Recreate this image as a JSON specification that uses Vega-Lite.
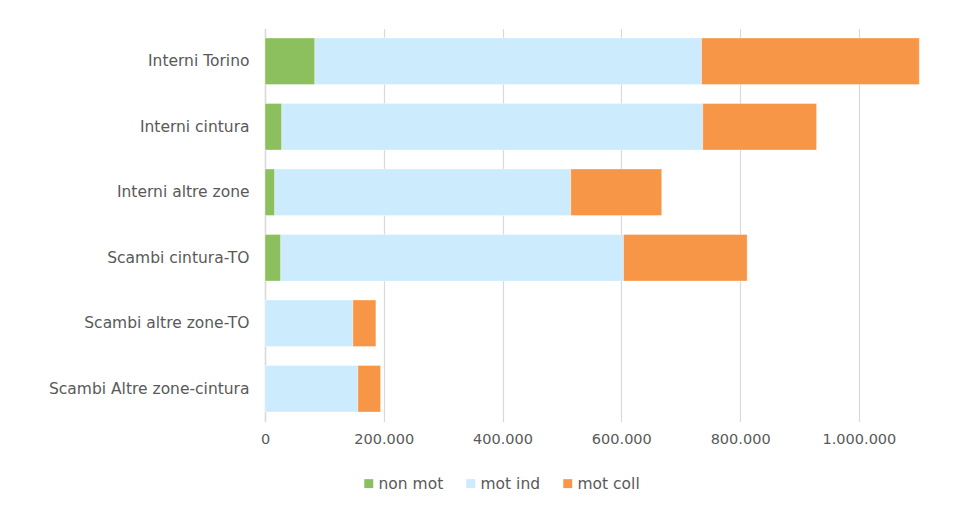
{
  "$schema": "https://vega.github.io/schema/vega-lite/v6.json",
  "autosize": "none",
  "width": 683,
  "height": 393,
  "padding": {"left": 265, "top": 28.5, "right": 18, "bottom": 84.5},
  "background": "#ffffff",
  "config": {
    "view": {"stroke": null},
    "font": "DejaVu Sans"
  },
  "data": {
    "values": [
      {"cat": "Interni Torino", "mode": "non mot", "ord": 1, "value": 84000},
      {"cat": "Interni Torino", "mode": "mot ind", "ord": 2, "value": 651000},
      {"cat": "Interni Torino", "mode": "mot coll", "ord": 3, "value": 366700},
      {"cat": "Interni cintura", "mode": "non mot", "ord": 1, "value": 28300},
      {"cat": "Interni cintura", "mode": "mot ind", "ord": 2, "value": 708700},
      {"cat": "Interni cintura", "mode": "mot coll", "ord": 3, "value": 191700},
      {"cat": "Interni altre zone", "mode": "non mot", "ord": 1, "value": 16500},
      {"cat": "Interni altre zone", "mode": "mot ind", "ord": 2, "value": 498300},
      {"cat": "Interni altre zone", "mode": "mot coll", "ord": 3, "value": 153200},
      {"cat": "Scambi cintura-TO", "mode": "non mot", "ord": 1, "value": 26600},
      {"cat": "Scambi cintura-TO", "mode": "mot ind", "ord": 2, "value": 577000},
      {"cat": "Scambi cintura-TO", "mode": "mot coll", "ord": 3, "value": 208200},
      {"cat": "Scambi altre zone-TO", "mode": "non mot", "ord": 1, "value": 0},
      {"cat": "Scambi altre zone-TO", "mode": "mot ind", "ord": 2, "value": 148000},
      {"cat": "Scambi altre zone-TO", "mode": "mot coll", "ord": 3, "value": 38700},
      {"cat": "Scambi Altre zone-cintura", "mode": "non mot", "ord": 1, "value": 0},
      {"cat": "Scambi Altre zone-cintura", "mode": "mot ind", "ord": 2, "value": 156400},
      {"cat": "Scambi Altre zone-cintura", "mode": "mot coll", "ord": 3, "value": 38200}
    ]
  },
  "mark": {"type": "bar", "stroke": "#ffffff", "strokeWidth": 0.6, "strokeOpacity": 0.6},
  "encoding": {
    "y": {
      "field": "cat",
      "type": "nominal",
      "sort": ["Interni Torino", "Interni cintura", "Interni altre zone", "Scambi cintura-TO", "Scambi altre zone-TO", "Scambi Altre zone-cintura"],
      "scale": {"paddingInner": 0.29, "paddingOuter": 0.145},
      "axis": {
        "title": null,
        "ticks": false,
        "domain": true,
        "domainColor": "#D9D9D9",
        "domainWidth": 1.5,
        "labelPadding": 16,
        "labelFontSize": 15.5,
        "labelColor": "#595959",
        "labelLimit": 400
      }
    },
    "x": {
      "field": "value",
      "type": "quantitative",
      "stack": "zero",
      "scale": {"domain": [0, 1150000], "nice": false},
      "axis": {
        "title": null,
        "values": [0, 200000, 400000, 600000, 800000, 1000000],
        "format": ",.0f",
        "labelExpr": "replace(datum.label, /,/g, '.')",
        "ticks": false,
        "domain": false,
        "grid": true,
        "gridColor": "#D9D9D9",
        "gridWidth": 1.2,
        "labelPadding": 11,
        "labelFontSize": 14.5,
        "labelColor": "#595959",
        "labelFlush": false
      }
    },
    "color": {
      "field": "mode",
      "type": "nominal",
      "sort": ["non mot", "mot ind", "mot coll"],
      "scale": {"domain": ["non mot", "mot ind", "mot coll"], "range": ["#8CBF5E", "#CCEBFD", "#F79646"]},
      "legend": {
        "title": null,
        "orient": "none",
        "direction": "horizontal",
        "legendX": 96,
        "legendY": 447,
        "symbolType": "square",
        "symbolSize": 80,
        "symbolStrokeWidth": 0,
        "labelFontSize": 15.5,
        "labelColor": "#595959",
        "labelOffset": 2,
        "columnPadding": 19
      }
    },
    "order": {"field": "ord", "type": "quantitative"}
  }
}
